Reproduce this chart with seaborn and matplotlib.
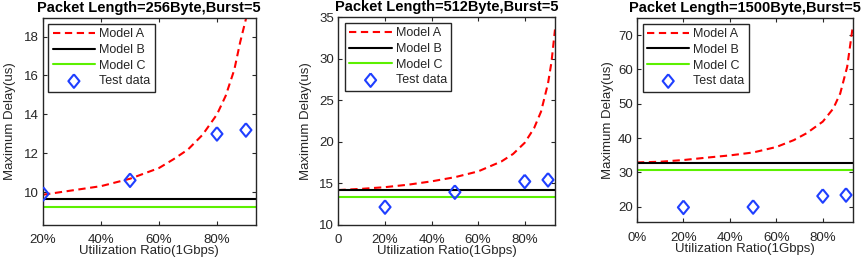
import matplotlib
matplotlib.use("Agg")
import matplotlib.pyplot as plt
import numpy as np
import pandas as pd
import seaborn as sns

# Model A curves
util_a1 = [0.2, 0.3, 0.4, 0.5, 0.6, 0.65, 0.7, 0.75, 0.8, 0.83, 0.86, 0.88, 0.9, 0.92]
delay_a1 = [9.88, 10.1, 10.32, 10.7, 11.25, 11.7, 12.2, 12.95, 14.0, 14.95, 16.3, 17.7, 18.9, 22.0]

util_a2 = [0.0, 0.1, 0.2, 0.3, 0.4, 0.5, 0.6, 0.7, 0.75, 0.8, 0.84, 0.87, 0.9, 0.915, 0.93]
delay_a2 = [14.15, 14.3, 14.5, 14.8, 15.2, 15.7, 16.4, 17.6, 18.5, 19.85, 21.6, 23.6, 27.0, 29.6, 33.5]

util_a3 = [0.0, 0.1, 0.2, 0.3, 0.4, 0.5, 0.6, 0.675, 0.73, 0.8, 0.845, 0.875, 0.905, 0.928]
delay_a3 = [32.9, 33.1, 33.6, 34.3, 34.95, 35.8, 37.4, 39.4, 41.4, 44.8, 48.6, 53.0, 60.8, 72.0]

# Model B / Model C constant delays per packet length
model_b = [9.64, 14.1, 32.8]
model_c = [9.26, 13.37, 30.7]

# measured points
test_util = [0.2, 0.5, 0.8, 0.9]
test1 = [9.92, 10.62, 13.0, 13.2]
test2 = [12.1, 13.9, 15.18, 15.38]
test3 = [19.8, 19.9, 23.1, 23.4]

titles = ["Packet Length=256Byte,Burst=5",
          "Packet Length=512Byte,Burst=5",
          "Packet Length=1500Byte,Burst=5"]
xticks = [[0.2, 0.4, 0.6, 0.8], [0, 0.2, 0.4, 0.6, 0.8], [0, 0.2, 0.4, 0.6, 0.8]]
xticklabels = [["20%", "40%", "60%", "80%"],
               ["0", "20%", "40%", "60%", "80%"],
               ["0%", "20%", "40%", "60%", "80%"]]
yticks = [[10, 12, 14, 16, 18], [10, 15, 20, 25, 30, 35], [20, 30, 40, 50, 60, 70]]

sns.set_theme(style="ticks")
plt.rcParams['font.family'] = ['Liberation Sans', 'DejaVu Sans']
gray = '#262626'

# matlab-like diamond, a bit taller than wide
diamond = [(0, 1), (0.82, 0), (0, -1), (-0.82, 0), (0, 1)]

fig = plt.figure(figsize=(8.61, 2.61), dpi=100)
positions = [[0.0494, 0.1398, 0.248, 0.7912],
             [0.3931, 0.1398, 0.2515, 0.7950],
             [0.7398, 0.1483, 0.2509, 0.7827]]
xlims = [(0.198, 0.935), (0, 0.93), (0, 0.93)]
ylims = [(8.35, 18.95), (10, 35), (15.45, 75)]
curves = [(util_a1, delay_a1), (util_a2, delay_a2), (util_a3, delay_a3)]
tests = [test1, test2, test3]
legend_x = [0.027, 0.030, 0.026]
ylabel_pad = [5.5, 5, 3]

for i in range(3):
    ax = fig.add_axes(positions[i])
    df = pd.DataFrame({"util": curves[i][0], "delay": curves[i][1]})
    sns.lineplot(data=df, x="util", y="delay", ax=ax, color='#ff0000',
                 linestyle=(0, (3.5, 2.2)), linewidth=1.5, label="Model A")
    ax.axhline(model_b[i], color='black', linewidth=1.5, label="Model B")
    ax.axhline(model_c[i], color='#5cf000', linewidth=1.5, label="Model C")
    tdf = pd.DataFrame({"util": test_util, "delay": tests[i]})
    sns.scatterplot(data=tdf, x="util", y="delay", ax=ax, marker=diamond, s=95,
                    facecolor='none', edgecolor='#1f3fff', linewidth=1.5,
                    label="Test data", zorder=5)

    ax.set_xlim(*xlims[i])
    ax.set_ylim(*ylims[i])
    ax.set_xticks(xticks[i])
    ax.set_xticklabels(xticklabels[i])
    ax.set_yticks(yticks[i])
    ax.tick_params(direction='in', top=True, right=True, length=3, width=0.8,
                   labelsize=9.5, colors=gray)
    ax.tick_params(axis='x', pad=7)
    ax.tick_params(axis='y', pad=3)
    for sp in ax.spines.values():
        sp.set_visible(True)
        sp.set_color(gray)
        sp.set_linewidth(1.0)
    ax.set_xlabel("Utilization Ratio(1Gbps)", fontsize=9.5, color=gray, labelpad=-1)
    ax.set_ylabel("Maximum Delay(us)", fontsize=9.5, color=gray, labelpad=ylabel_pad[i])
    ax.set_title(titles[i], fontsize=10.5, fontweight='bold', color='black', pad=4)
    leg = ax.legend(loc='upper left', bbox_to_anchor=(legend_x[i], 0.972),
                    borderaxespad=0, fontsize=9, handlelength=3.4,
                    handletextpad=0.3, labelspacing=0.3, borderpad=0.35,
                    fancybox=False, framealpha=1, edgecolor='#262626')
    leg.get_frame().set_linewidth(1.0)

fig.savefig("out.png", dpi=100)
